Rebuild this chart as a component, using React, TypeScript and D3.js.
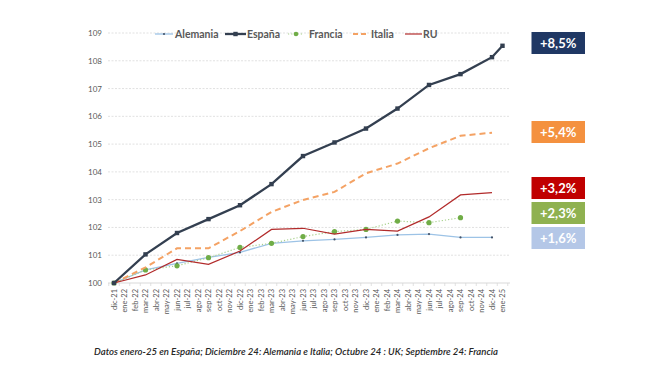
import React from "react";
import * as d3 from "d3";

const months = [
  "dic-21",
  "ene-22", "feb-22", "mar-22", "abr-22", "may-22", "jun-22", "jul-22", "ago-22", "sep-22", "oct-22", "nov-22", "dic-22",
  "ene-23", "feb-23", "mar-23", "abr-23", "may-23", "jun-23", "jul-23", "ago-23", "sep-23", "oct-23", "nov-23", "dic-23",
  "ene-24", "feb-24", "mar-24", "abr-24", "may-24", "jun-24", "jul-24", "ago-24", "sep-24", "oct-24", "nov-24", "dic-24",
  "ene-25",
];

const pointMonths = ["dic-21", "mar-22", "jun-22", "sep-22", "dic-22", "mar-23", "jun-23", "sep-23", "dic-23", "mar-24", "jun-24", "sep-24", "dic-24", "ene-25"];

const espana = [100, 101.03, 101.8, 102.3, 102.8, 103.56, 104.57, 105.06, 105.56, 106.28, 107.13, 107.52, 108.13, 108.54];
const italia = [100, 100.56, 101.25, 101.25, 101.87, 102.56, 102.99, 103.28, 103.95, 104.3, 104.85, 105.3, 105.41, null];
const ru = [100, 100.29, 100.85, 100.67, 101.15, 101.93, 101.97, 101.76, 101.93, 101.87, 102.38, 103.17, 103.25, null];
const alemania = [100, 100.47, 100.71, 100.92, 101.1, 101.43, 101.52, 101.57, 101.64, 101.73, 101.76, 101.64, 101.64, null];
const francia = [100, 100.47, 100.62, 100.91, 101.28, 101.43, 101.67, 101.85, 101.93, 102.23, 102.17, 102.35, null, null];

const yTicks = [100, 101, 102, 103, 104, 105, 106, 107, 108, 109];

const badgeLabels = ["+8,5%", "+5,4%", "+3,2%", "+2,3%", "+1,6%"];
const badgeColors = ["#203864", "#F4913F", "#C00000", "#8FB150", "#B4C7E7"];
const badgeTops = [32, 121, 177, 202, 227];

const footnote = "Datos enero-25 en España; Diciembre 24: Alemania e Italia; Octubre 24 : UK;  Septiembre 24: Francia";

const FONT = "Lato, 'Open Sans', sans-serif";

export default function App() {
  const x = d3.scalePoint<string>().domain(months).range([114, 502.5]);
  const y = d3.scaleLinear().domain([100, 109]).range([283, 33]);
  const step = x.step();

  const mkLine = (vals: (number | null)[]) => {
    const pts = pointMonths
      .map((m, i) => ({ m, v: vals[i] }))
      .filter((p) => p.v !== null) as { m: string; v: number }[];
    const path = d3
      .line<{ m: string; v: number }>()
      .x((d) => x(d.m) as number)
      .y((d) => y(d.v))(pts) as string;
    return { pts, path };
  };

  const es = mkLine(espana);
  const it = mkLine(italia);
  const uk = mkLine(ru);
  const de = mkLine(alemania);
  const fr = mkLine(francia);

  const cAle = "#9DC3E6";
  const cEsp = "#333F50";
  const cFra = "#70AD47";
  const cIta = "#F4A264";
  const cRU = "#B22B2B";

  return (
    <div style={{ position: "absolute", left: 0, top: 0 }}>
      <svg width={659} height={371} style={{ display: "block", background: "#fff" }} fontFamily={FONT}>
        {/* gridlines */}
        {yTicks.map((t) => (
          <g key={t}>
            {t !== 100 && (
              <line x1={108} x2={510} y1={y(t)} y2={y(t)} stroke="#D9D9D9" strokeWidth={0.8} strokeDasharray="2,1.5" />
            )}
            <text x={102} y={y(t) + 3} textAnchor="end" fontSize={8} fill="#595959">
              {t}
            </text>
          </g>
        ))}
        {/* x axis */}
        <line x1={108} x2={510} y1={y(100)} y2={y(100)} stroke="#D9D9D9" strokeWidth={1} />
        {months.map((m, i) => (
          <g key={m}>
            <line
              x1={(x(m) as number) + step / 2}
              x2={(x(m) as number) + step / 2}
              y1={y(100)}
              y2={y(100) + 3}
              stroke="#D9D9D9"
              strokeWidth={0.8}
            />
            {i === 0 && (
              <line x1={(x(m) as number) - step / 2} x2={(x(m) as number) - step / 2} y1={y(100)} y2={y(100) + 3} stroke="#D9D9D9" strokeWidth={0.8} />
            )}
            <text
              transform={`translate(${(x(m) as number) + 2.8},${y(100) + 6}) rotate(-90)`}
              textAnchor="end"
              fontSize={7.5}
              fill="#595959"
            >
              {m}
            </text>
          </g>
        ))}

        {/* series */}
        <path d={de.path} fill="none" stroke={cAle} strokeWidth={1.3} />
        {de.pts.map((p) => (
          <circle key={p.m} cx={x(p.m)} cy={y(p.v)} r={1.1} fill="#44546A" />
        ))}
        <path d={fr.path} fill="none" stroke="#A9D18E" strokeWidth={1.2} strokeDasharray="1.2,2" />
        {fr.pts.map((p) => (
          <circle key={p.m} cx={x(p.m)} cy={y(p.v)} r={2.6} fill={cFra} />
        ))}
        <path d={it.path} fill="none" stroke={cIta} strokeWidth={2} strokeDasharray="6,4" />
        <path d={uk.path} fill="none" stroke={cRU} strokeWidth={1.2} />
        <path d={es.path} fill="none" stroke={cEsp} strokeWidth={2.3} />
        {es.pts.map((p) => (
          <rect key={p.m} x={(x(p.m) as number) - 2.2} y={y(p.v) - 2.2} width={4.4} height={4.4} fill={cEsp} />
        ))}

        {/* legend */}
        <g fontSize={10.5} fontWeight={700} fill="#595959">
          <line x1={155} x2={173} y1={34} y2={34} stroke={cAle} strokeWidth={1.3} />
          <circle cx={164} cy={34} r={1.1} fill="#44546A" />
          <text x={175} y={38}>Alemania</text>

          <line x1={225} x2={246} y1={34} y2={34} stroke={cEsp} strokeWidth={2.3} />
          <rect x={233.3} y={31.8} width={4.4} height={4.4} fill={cEsp} />
          <text x={247} y={38}>España</text>

          <line x1={288} x2={304} y1={34} y2={34} stroke="#A9D18E" strokeWidth={1.2} strokeDasharray="1.2,2" />
          <circle cx={296} cy={34} r={2.3} fill={cFra} />
          <text x={309} y={38}>Francia</text>

          <line x1={353} x2={369} y1={34} y2={34} stroke={cIta} strokeWidth={2} strokeDasharray="5,3" />
          <text x={371} y={38}>Italia</text>

          <line x1={405} x2={422} y1={34} y2={34} stroke={cRU} strokeWidth={1.2} />
          <text x={423} y={38}>RU</text>
        </g>

        {/* badges */}
        {badgeLabels.map((b, i) => (
          <g key={b}>
            <rect x={531.5} y={badgeTops[i]} width={53.5} height={22} fill={badgeColors[i]} />
            <text x={558.2} y={badgeTops[i] + 15.5} textAnchor="middle" fontSize={13} fontWeight={700} fill="#fff">
              {b}
            </text>
          </g>
        ))}

        {/* footnote */}
        <text
          x={94}
          y={355}
          fontSize={9}
          fontStyle="italic"
          fontWeight={600}
          fill="#262626"
          textLength={404}
          lengthAdjust="spacingAndGlyphs"
        >
          {footnote}
        </text>
      </svg>
    </div>
  );
}
